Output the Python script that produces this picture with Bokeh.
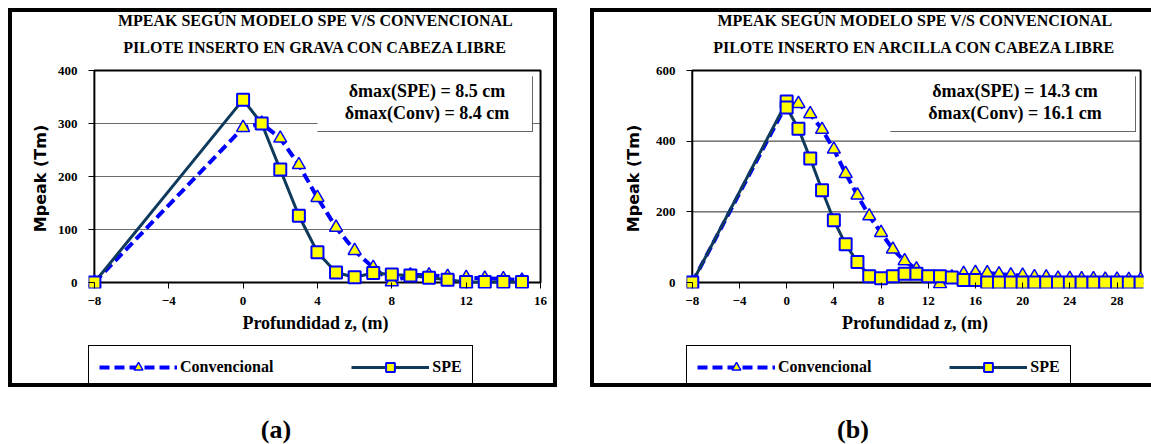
from bokeh.plotting import figure
from bokeh.models import (Range1d, LinearAxis, FixedTicker, BoxAnnotation, Label,
                          Legend, LegendItem, Title, Div, Spacer)
from bokeh.layouts import row, column
from bokeh.embed import file_html
from bokeh.resources import INLINE

# ---------------- data: panel (a) ----------------
a_title = ["MPEAK SEGÚN MODELO SPE V/S CONVENCIONAL",
           "PILOTE INSERTO EN GRAVA CON CABEZA LIBRE"]
a_delta = ["δmax(SPE) = 8.5 cm", "δmax(Conv) = 8.4 cm"]
a_xticks = [-8, -4, 0, 4, 8, 12, 16]
a_yticks = [0, 100, 200, 300, 400]
a_conv_x = [-8, 0, 1, 2, 3, 4, 5, 6, 7, 8, 9, 10, 11, 12, 13, 14, 15]
a_conv_y = [0, 292, 300, 272, 222, 160, 104, 60, 28, 1, 14, 14, 11, 9, 8, 7, 4]
a_spe_x = [-8, 0, 1, 2, 3, 4, 5, 6, 7, 8, 9, 10, 11, 12, 13, 14, 15]
a_spe_y = [0, 345, 300, 213, 126, 57, 19, 10, 18, 15, 13, 9, 5, 1, 1, 1, 1]

# ---------------- data: panel (b) ----------------
b_title = ["MPEAK SEGÚN MODELO SPE V/S CONVENCIONAL",
           "PILOTE INSERTO EN ARCILLA CON CABEZA LIBRE"]
b_delta = ["δmax(SPE) = 14.3 cm", "δmax(Conv) = 16.1 cm"]
b_xticks = [-8, -4, 0, 4, 8, 12, 16, 20, 24, 28]
b_yticks = [0, 200, 400, 600]
b_conv_x = [-8, 0, 1, 2, 3, 4, 5, 6, 7, 8, 9, 10, 11, 12, 13, 14, 15, 16, 17, 18,
            19, 20, 21, 22, 23, 24, 25, 26, 27, 28, 29, 30]
b_conv_y = [0, 505, 506, 477, 433, 377, 308, 247, 188, 141, 94, 61, 38, 14, -4, 15,
            25, 28, 27, 24, 21, 20, 16, 15, 12, 11, 10, 10, 9, 9, 8, 8]
b_spe_x = [-8, 0, 0, 1, 2, 3, 4, 5, 6, 7, 8, 9, 10, 11, 12, 13, 14, 15, 16, 17, 18,
           19, 20, 21, 22, 23, 24, 25, 26, 27, 28, 29, 30]
b_spe_y = [0, 512, 495, 435, 351, 261, 176, 108, 58, 18, 12, 18, 25, 25, 18, 18, 14,
           7, 7, 0, 0, 0, 0, 0, 0, 0, 0, 0, 0, 0, 0, 0, 0]

captions = ["(a)", "(b)"]
legend_labels = ["Convencional", "SPE"]
x_label = "Profundidad z, (m)"
y_label = "Mpeak (Tm)"

SERIF = "Liberation Serif"
BLUE = "#0000FF"
NAVY = "#0F3A5C"
YELLOW = "#FFFF00"
CONV_LINE = dict(line_color=BLUE, line_width=4, line_dash="10 5")
CONV_MARK = dict(marker="triangle", size=13, fill_color=YELLOW, line_color=BLUE, line_width=1.5)
SPE_LINE = dict(line_color=NAVY, line_width=3)
SPE_MARK = dict(marker="square", size=12, fill_color=YELLOW, line_color=BLUE, line_width=2)


def cbox(l, r, t, b, **kw):
    return BoxAnnotation(left=l, right=r, top=t, bottom=b,
                         left_units="canvas", right_units="canvas",
                         top_units="canvas", bottom_units="canvas", **kw)


def make_panel(W, H, box, pads, xr, yr, xticks, yticks, conv_x, conv_y, spe_x, spe_y,
               titles, title_offset, ylab_standoff, dbox, dlines):
    bx0, by0, bx1, by1 = box
    pl, pr, pt, pb_ = pads
    p = figure(width=W, height=H, output_backend="svg", toolbar_location=None, tools="",
               x_axis_type=None, y_axis_type=None,
               min_border_left=bx0 - pl, min_border_right=W - (bx1 + pr),
               min_border_top=by0 - pt, min_border_bottom=H - (by1 + pb_))
    kx = (xr[1] - xr[0]) / (bx1 - bx0)
    ky = (yr[1] - yr[0]) / (by1 - by0)
    p.x_range = Range1d(xr[0] - pl * kx, xr[1] + pr * kx)
    p.y_range = Range1d(yr[0] - pb_ * ky, yr[1] + pt * ky)
    p.outline_line_color = None
    p.background_fill_color = "white"
    p.border_fill_color = "white"

    # grid lines and plot-area border (its left/bottom edges are the axis lines)
    for t in yticks:
        if yr[0] < t < yr[1]:
            p.add_layout(BoxAnnotation(left=xr[0], right=xr[1], bottom=t, top=t,
                                       fill_color=None, line_color="#6a6a6a",
                                       line_alpha=1, line_width=1, level="underlay"))
    p.add_layout(BoxAnnotation(left=xr[0], right=xr[1], bottom=yr[0], top=yr[1],
                               fill_color=None, line_color="black", line_alpha=1,
                               line_width=2, level="underlay"))

    # axes (ticks reach from the frame edge to the axis line)
    xax = LinearAxis(ticker=FixedTicker(ticks=xticks), axis_label=x_label)
    yax = LinearAxis(ticker=FixedTicker(ticks=yticks), axis_label=y_label)
    for ax in (xax, yax):
        ax.axis_line_color = None
        ax.major_tick_line_color = "black"
        ax.major_tick_line_width = 1
        ax.major_tick_out = 0
        ax.minor_tick_line_color = None
        ax.major_label_text_font = SERIF
        ax.major_label_text_font_style = "bold"
        ax.major_label_text_font_size = "13px"
        ax.major_label_text_color = "black"
        ax.axis_label_text_color = "black"
    xax.major_tick_in = pb_
    yax.major_tick_in = pl
    xax.major_label_standoff = 8
    xax.axis_label_text_font = SERIF
    xax.axis_label_text_font_style = "bold"
    xax.axis_label_text_font_size = "18px"
    xax.axis_label_standoff = 5
    yax.major_label_standoff = 11
    yax.axis_label_text_font = "DejaVu Sans"
    yax.axis_label_text_font_style = "bold"
    yax.axis_label_text_font_size = "16px"
    yax.axis_label_standoff = ylab_standoff
    p.add_layout(xax, "below")
    p.add_layout(yax, "left")

    # series
    p.line(conv_x, conv_y, **CONV_LINE)
    p.scatter(conv_x, conv_y, **CONV_MARK)
    p.line(spe_x, spe_y, **SPE_LINE)
    p.scatter(spe_x, spe_y, **SPE_MARK)

    # delta box
    dx0, dy0, dx1, dy1 = dbox
    p.add_layout(cbox(dx0, dx1, dy0, dy1, fill_color="white", fill_alpha=1, line_color=None))
    p.add_layout(cbox(dx1, dx1, dy0, dy1, fill_color=None, line_color="#333333",
                      line_alpha=1, line_width=1, line_dash="1 1"))
    p.add_layout(cbox(dx0, dx1, dy1, dy1, fill_color=None, line_color="#333333",
                      line_alpha=1, line_width=1, line_dash="1 1"))
    dcx = (dx0 + dx1) / 2 + 2
    for i, txt in enumerate(dlines):
        p.add_layout(Label(x=dcx, y=dy0 + 14 + 22 * i, x_units="canvas", y_units="canvas",
                           text=txt, text_align="center", text_baseline="middle",
                           text_font=SERIF, text_font_style="bold",
                           text_font_size="18px", text_color="black"))

    # two-line title (second line is added first: closest to the plot)
    for txt, so in ((titles[1], 25), (titles[0], -9)):
        p.add_layout(Title(text=txt, align="center", offset=title_offset, standoff=so,
                           text_font=SERIF, text_font_style="bold",
                           text_font_size="16px", text_color="black"), "above")
    return p


def legend_strip(W, H, x_off, conv_x, conv_y, spe_x, spe_y):
    # the legend's own strip below the plot; its renderers lie outside its visible range
    lf = figure(width=W, height=H, output_backend="svg", toolbar_location=None, tools="",
                x_axis_type=None, y_axis_type=None, min_border=0, min_border_left=x_off,
                x_range=Range1d(1000, 1001), y_range=Range1d(1000, 1001))
    lf.outline_line_color = None
    lf.background_fill_color = "white"
    lf.border_fill_color = "white"
    r1 = lf.line(conv_x, conv_y, **CONV_LINE)
    r2 = lf.scatter(conv_x, conv_y, **CONV_MARK)
    r3 = lf.line(spe_x, spe_y, **SPE_LINE)
    r4 = lf.scatter(spe_x, spe_y, **SPE_MARK)
    leg = Legend(items=[LegendItem(label=legend_labels[0], renderers=[r1, r2]),
                        LegendItem(label=legend_labels[1], renderers=[r3, r4])],
                 location="top_left", orientation="horizontal",
                 glyph_width=78, glyph_height=22, label_standoff=3, spacing=78,
                 padding=10, margin=0, border_line_color="black", border_line_width=1,
                 border_line_alpha=1, background_fill_color="white", background_fill_alpha=1,
                 label_text_font=SERIF, label_text_font_style="bold",
                 label_text_font_size="16px", label_text_color="black")
    lf.add_layout(leg, "center")
    return lf


def bar(w, h):
    return Div(text="", width=w, height=h, margin=0,
               styles={"background-color": "black"})


pa = make_panel(541, 333, (72, 58, 528, 270), (6, 2, 2, 6), (-8, 16), (0, 400),
                a_xticks, a_yticks, a_conv_x, a_conv_y, a_spe_x, a_spe_y,
                titles=a_title, title_offset=8, ylab_standoff=5,
                dbox=(305, 64, 520, 119), dlines=a_delta)
pb = make_panel(557, 333, (80, 58, 546, 270), (6, 3, 2, 6), (-8, 30), (0, 600),
                b_xticks, b_yticks, b_conv_x, b_conv_y, b_spe_x, b_spe_y,
                titles=b_title, title_offset=0, ylab_standoff=10,
                dbox=(296, 64, 541, 119), dlines=b_delta)
la = legend_strip(541, 38, 76, a_conv_x, a_conv_y, a_spe_x, a_spe_y)
lb = legend_strip(557, 38, 92, b_conv_x, b_conv_y, b_spe_x, b_spe_y)

frame_a = column(bar(549, 4), row(bar(4, 371), column(pa, la), bar(4, 371)), bar(549, 4))
frame_b = column(bar(561, 4), row(bar(4, 371), column(pb, lb)), bar(561, 4))
top = row(Spacer(width=8, height=379, margin=0), frame_a,
          Spacer(width=33, height=379, margin=0), frame_b)


def caption_div(txt, w):
    html = ('<div style="width:%dpx;padding-top:37px;line-height:12px;text-align:center;'
            'font-family:\'Liberation Serif\';font-weight:bold;font-size:26px;color:black;">'
            % w + txt + '</div>')
    return Div(text=html, width=w, height=49, margin=0)


caps = row(Spacer(width=8, height=49, margin=0), caption_div(captions[0], 536),
           Spacer(width=56, height=49, margin=0), caption_div(captions[1], 506))
page = column(Spacer(width=1151, height=8, margin=0), top, caps)
open("out.html", "w").write(file_html(page, INLINE))
